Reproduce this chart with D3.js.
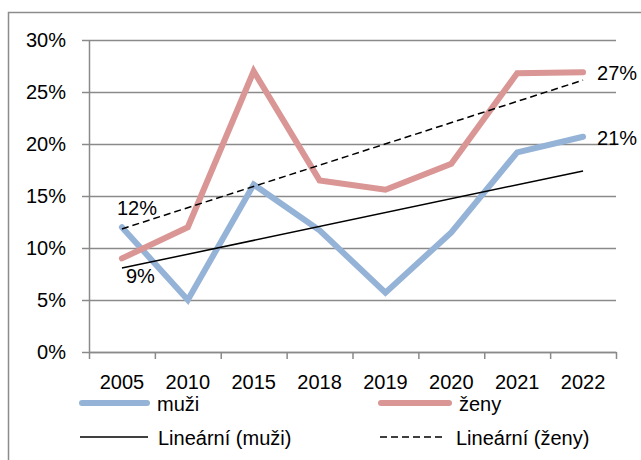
<!DOCTYPE html>
<html>
<head>
<meta charset="utf-8">
<title>muži a ženy</title>
<script src="https://cdn.jsdelivr.net/npm/d3@7"></script>
<style>
body { margin: 0; background: #fff; }
text { font-family: "Liberation Sans", Arial, sans-serif; }
</style>
</head>
<body>
<script>
// data
var years = ["2005", "2010", "2015", "2018", "2019", "2020", "2021", "2022"];
var muzi = [12.0, 5.0, 16.1, 11.7, 5.7, 11.5, 19.2, 20.7];
var zeny = [9.0, 12.0, 27.0, 16.5, 15.6, 18.1, 26.8, 26.9];
var yTicks = [0, 5, 10, 15, 20, 25, 30];

// Width and Height (plot area edges)
var w = 641;
var h = 460;
var plotLeft = 89, plotRight = 616, plotTop = 40, plotBottom = 352;
var fontSize = "20px";

var svg = d3.select("body")
            .append("svg")
            .attr("width", w)
            .attr("height", h);

// outer frame (cut off on the right and bottom)
svg.append("rect")
    .attr("x", 8.5)
    .attr("y", 12.5)
    .attr("width", 700)
    .attr("height", 500)
    .attr("fill", "none")
    .attr("stroke", "#8c8c8c")
    .attr("stroke-width", 1.5);

var x = d3.scaleBand()
          .domain(years)
          .range([plotLeft, plotRight]);

var y = d3.scaleLinear()
          .domain([0, 30])
          .range([plotBottom, plotTop]);

function cx(i) {
    return x(years[i]) + x.bandwidth() / 2;
}

// gridlines
svg.append("g")
    .attr("transform", "translate(" + plotLeft + ",0)")
    .call(d3.axisLeft(y).tickValues(yTicks).tickSize(-(plotRight - plotLeft)).tickFormat(""))
    .call(function(g) { g.select(".domain").remove(); })
    .selectAll("line")
    .attr("stroke", "#8a8a8a")
    .attr("stroke-width", 1.3);

// y axis
var yAxis = svg.append("g")
    .attr("transform", "translate(" + plotLeft + ",0)")
    .call(d3.axisLeft(y).tickValues(yTicks).tickSizeInner(7).tickSizeOuter(0).tickPadding(16)
        .tickFormat(function(d) { return d + "%"; }));

yAxis.selectAll("line, path").attr("stroke", "#8a8a8a").attr("stroke-width", 1.5);
yAxis.selectAll("text")
    .attr("font-size", fontSize)
    .attr("fill", "#000")
    .attr("font-family", null);

// x axis: boundary ticks
var edges = d3.scaleLinear().domain([0, years.length]).range([plotLeft, plotRight]);
var xTicks = svg.append("g")
    .attr("transform", "translate(0," + plotBottom + ")")
    .call(d3.axisBottom(edges).ticks(years.length).tickSizeInner(7).tickSizeOuter(0).tickFormat(""));
xTicks.selectAll("line, path").attr("stroke", "#8a8a8a").attr("stroke-width", 1.5);

// x axis: category labels
var xAxis = svg.append("g")
    .attr("transform", "translate(0," + plotBottom + ")")
    .call(d3.axisBottom(x).tickSize(0).tickPadding(23));
xAxis.select(".domain").remove();
xAxis.selectAll("text")
    .attr("font-size", fontSize)
    .attr("fill", "#000")
    .attr("font-family", null);

// linear trend (least squares over 1..n)
function trend(vals) {
    var n = vals.length;
    var mx = (n + 1) / 2;
    var my = d3.mean(vals);
    var sxy = 0, sxx = 0;
    vals.forEach(function(v, i) {
        sxy += (i + 1 - mx) * (v - my);
        sxx += (i + 1 - mx) * (i + 1 - mx);
    });
    var b = sxy / sxx;
    return vals.map(function(v, i) { return my + b * (i + 1 - mx); });
}

var line = d3.line()
    .x(function(d, i) { return cx(i); })
    .y(function(d) { return y(d); });

svg.append("path")
    .datum(muzi)
    .attr("d", line)
    .attr("fill", "none")
    .attr("stroke", "#95b3d7")
    .attr("stroke-width", 6)
    .attr("stroke-linejoin", "miter")
    .attr("stroke-linecap", "round");

svg.append("path")
    .datum(zeny)
    .attr("d", line)
    .attr("fill", "none")
    .attr("stroke", "#d99694")
    .attr("stroke-width", 6)
    .attr("stroke-linejoin", "miter")
    .attr("stroke-linecap", "round");

var tm = trend(muzi);
var tz = trend(zeny);

svg.append("line")
    .attr("x1", cx(0)).attr("y1", y(tm[0]))
    .attr("x2", cx(years.length - 1)).attr("y2", y(tm[tm.length - 1]))
    .attr("stroke", "#000")
    .attr("stroke-width", 1.5);

svg.append("line")
    .attr("x1", cx(0)).attr("y1", y(tz[0]))
    .attr("x2", cx(years.length - 1)).attr("y2", y(tz[tz.length - 1]))
    .attr("stroke", "#000")
    .attr("stroke-width", 1.5)
    .attr("stroke-dasharray", "7,4");

// data labels
var last = years.length - 1;
function label(txt, px, py) {
    svg.append("text")
        .text(txt)
        .attr("x", px)
        .attr("y", py)
        .attr("font-size", fontSize)
        .attr("fill", "#000");
}
label(Math.round(muzi[0]) + "%", cx(0) - 5, y(muzi[0]) - 12);
label(Math.round(zeny[0]) + "%", cx(0) + 4, y(zeny[0]) + 25);
label(Math.round(zeny[last]) + "%", cx(last) + 14, y(zeny[last]) + 8);
label(Math.round(muzi[last]) + "%", cx(last) + 14, y(muzi[last]) + 8);

// legend
var legend = [
    { name: "muži", x1: 82, x2: 147, y: 403, color: "#95b3d7", width: 6, dash: null },
    { name: "ženy", x1: 381, x2: 449, y: 403, color: "#d99694", width: 6, dash: null },
    { name: "Lineární (muži)", x1: 80, x2: 148, y: 437, color: "#000", width: 1.5, dash: null },
    { name: "Lineární (ženy)", x1: 380, x2: 446, y: 437, color: "#000", width: 1.5, dash: "7,4" }
];

var items = svg.selectAll(".legend")
    .data(legend)
    .enter()
    .append("g")
    .attr("class", "legend");

items.append("line")
    .attr("x1", function(d) { return d.x1; })
    .attr("x2", function(d) { return d.x2; })
    .attr("y1", function(d) { return d.y; })
    .attr("y2", function(d) { return d.y; })
    .attr("stroke", function(d) { return d.color; })
    .attr("stroke-width", function(d) { return d.width; })
    .attr("stroke-linecap", function(d) { return d.width > 2 ? "round" : "butt"; })
    .attr("stroke-dasharray", function(d) { return d.dash; });

items.append("text")
    .text(function(d) { return d.name; })
    .attr("x", function(d) { return d.x2 + 10; })
    .attr("y", function(d) { return d.y + 8; })
    .attr("font-size", fontSize)
    .attr("fill", "#000");
</script>
</body>
</html>
